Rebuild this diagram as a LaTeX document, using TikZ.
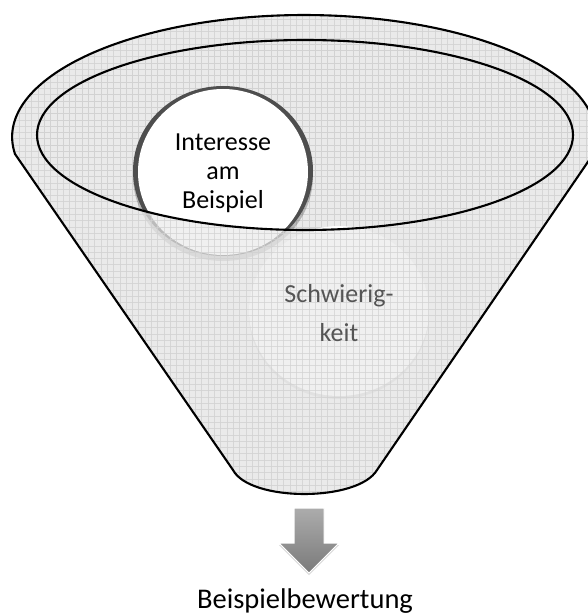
\documentclass[tikz,border=0pt]{standalone}
\usepackage{fontspec}
\setmainfont{Carlito}
\usetikzlibrary{shadows}
\definecolor{funnelbg}{RGB}{234,234,234}
\definecolor{gridc}{RGB}{210,210,210}
\definecolor{rimc}{RGB}{78,78,78}
\definecolor{softtext}{RGB}{85,85,85}
\definecolor{arrowtop}{RGB}{172,172,172}
\definecolor{arrowbot}{RGB}{122,122,122}
\begin{document}
\begin{tikzpicture}[x=1pt,y=-1pt,
  outline/.style={draw=black,line width=2.1pt,line join=round},
  gridlines/.style={draw=gridc,line width=0.4pt},
  circtext/.style={align=center,inner sep=0pt},
  ]
\def\funnelpath{(15,154) arc[start angle=172,end angle=368,x radius=292,y radius=122] -- (377,470) .. controls (358,502) and (250,502) .. (233,470) -- cycle}
\def\innerpath{(305,135) ellipse[x radius=268,y radius=95]}
\useasboundingbox (0,0) rectangle (588,615);
\clip (0,0) rectangle (588,615);
% base of the funnel
\begin{scope}
  \clip \funnelpath;
  \fill[funnelbg] (0,0) rectangle (600,510);
  \foreach \i in {0,6.3,...,600} \draw[gridlines] (\i,0) -- (\i,510);
  \foreach \j in {0,6.3,...,510} \draw[gridlines] (0,\j) -- (600,\j);
\end{scope}
% circle 2
\fill[black,opacity=0.12] (339,314) ellipse[x radius=90,y radius=85];
\fill[white] (339,311) ellipse[x radius=90,y radius=85];
% circle 1
\fill[black,opacity=0.22] (223,176) ellipse[x radius=90,y radius=85];
\fill[rimc] (223,171) ellipse[x radius=90,y radius=85];
\fill[white] (223,172) ellipse[x radius=85,y radius=83];
% front of the funnel
\begin{scope}[even odd rule]
  \clip \funnelpath \innerpath;
  \fill[funnelbg,opacity=0.7] (0,0) rectangle (600,510);
  \foreach \i in {0,6.3,...,600} \draw[gridlines,opacity=0.7] (\i,0) -- (\i,510);
  \foreach \j in {0,6.3,...,510} \draw[gridlines,opacity=0.7] (0,\j) -- (600,\j);
\end{scope}
% outlines
\draw[outline] \funnelpath;
\draw[outline] \innerpath;
% texts
\node[circtext,font=\fontsize{26}{29}\selectfont] (t1) at (223,173) {Interesse\\am\\Beispiel};
\node[circtext,font=\fontsize{26}{39}\selectfont,text=softtext] (t2) at (339,313) {Schwierig-\\keit};
% arrow
\path[draw=white,line width=1pt,top color=arrowtop,bottom color=arrowbot,
  drop shadow={opacity=0.3,shadow xshift=0pt,shadow yshift=-2pt}]
  (294,508) -- (324,508) -- (324,543) -- (339,543) -- (309,573) -- (279,543) -- (294,543) -- cycle;
\node[font=\fontsize{28.5}{34}\selectfont,anchor=base,inner sep=0pt] (label) at (305,608) {Beispielbewertung};
\end{tikzpicture}
\end{document}
